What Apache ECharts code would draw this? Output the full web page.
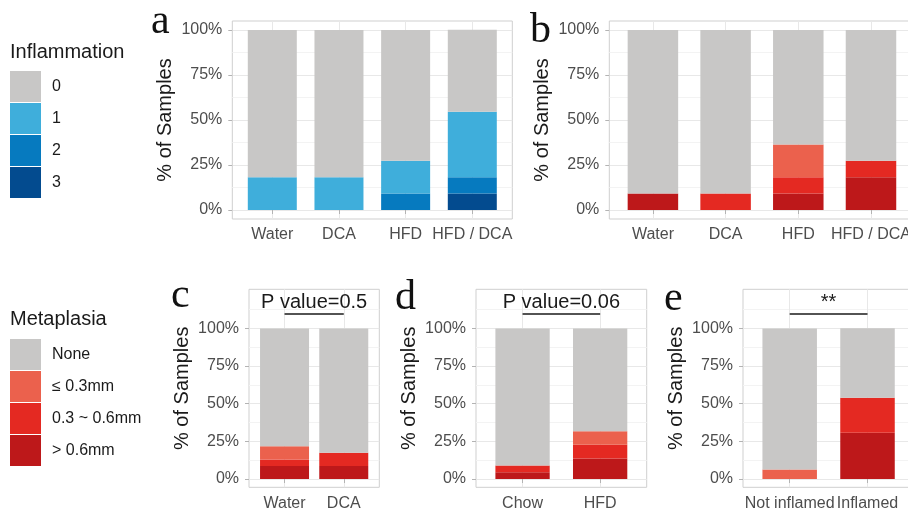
<!DOCTYPE html>
<html><head><meta charset="utf-8">
<script src="https://cdn.jsdelivr.net/npm/echarts@6/dist/echarts.min.js"></script>
<style>html,body{margin:0;padding:0;background:#fff}#c{width:908px;height:510px}</style>
</head><body><div id="c"></div>
<script>
// ---------------- DATA ----------------
const catsAB = ['Water', 'DCA', 'HFD', 'HFD / DCA'];
const catsC = ['Water', 'DCA'];
const catsD = ['Chow', 'HFD'];
const catsE = ['Not inflamed', 'Inflamed'];
const inflLevels = ['0', '1', '2', '3'];
const metaLevels = ['None', '≤ 0.3mm', '0.3 ~ 0.6mm', '> 0.6mm'];
const yTickStep = 25;

// panel a: inflammation grade (% of samples)
const aInfl0 = [81.8, 81.8, 72.7, 45.5];
const aInfl1 = [18.2, 18.2, 18.2, 36.4];
const aInfl2 = [0, 0, 9.1, 9.1];
const aInfl3 = [0, 0, 0, 9.1];
// panel b: metaplasia
const bNone = [90.9, 90.9, 63.6, 72.7];
const bLe03 = [0, 0, 18.2, 0];
const b0306 = [0, 9.1, 9.1, 9.1];
const bGt06 = [9.1, 0, 9.1, 18.2];
// panel c
const cNone = [78.3, 82.6];
const cLe03 = [8.7, 0];
const c0306 = [4.3, 8.7];
const cGt06 = [8.7, 8.7];
// panel d
const dNone = [90.9, 68.2];
const dLe03 = [0, 9.1];
const d0306 = [4.5, 9.1];
const dGt06 = [4.5, 13.6];
// panel e
const eNone = [93.7, 46.2];
const eLe03 = [6.3, 0];
const e0306 = [0, 23.1];
const eGt06 = [0, 30.8];
// significance annotations (c, d, e)
const sigText = ['P value=0.5', 'P value=0.06', '**'];
const sigY = [110, 110, 110];
const panelLetters = ['a', 'b', 'c', 'd', 'e'];

// ---------------- STYLE / LAYOUT ----------------
const SANS = 'Liberation Sans, Arial, Helvetica, sans-serif';
const SERIF = 'Liberation Serif, Times New Roman, serif';
const inflColors = ['#C8C7C6', '#3FAEDB', '#067ABF', '#034B8F'];
const metaColors = ['#C8C7C6', '#EB614D', '#E42922', '#BD181A'];
const BORDER = '#cfcfcf', MAJOR = '#e8e8e8', MINOR = '#f3f3f3', TICK = '#b3b3b3';
const AXTXT = '#4d4d4d', DARK = '#1a1a1a';

const panels = [
  {cats: catsAB, levels: inflLevels, colors: inflColors, values: [aInfl0, aInfl1, aInfl2, aInfl3],
   left: 232.3, right: 512.3, top: 21, bottom: 219, yMin: -5, yMax: 105, barWidth: 49,
   letter: {left: 151, top: 0.5}},
  {cats: catsAB, levels: metaLevels, colors: metaColors, values: [bNone, bLe03, b0306, bGt06],
   left: 609.3, right: 914.6, top: 21, bottom: 219, yMin: -5, yMax: 105, barWidth: 50.5,
   letter: {left: 530, top: 9.8}},
  {cats: catsC, levels: metaLevels, colors: metaColors, values: [cNone, cLe03, c0306, cGt06],
   left: 249, right: 379.3, top: 289.3, bottom: 487.3, yMin: -5.5, yMax: 126, barWidth: 49, sig: 0,
   letter: {left: 171, top: 274.8}},
  {cats: catsD, levels: metaLevels, colors: metaColors, values: [dNone, dLe03, d0306, dGt06],
   left: 476, right: 646.7, top: 289.3, bottom: 487.3, yMin: -5.5, yMax: 126, barWidth: 54.3, sig: 1,
   letter: {left: 395, top: 276.5}},
  {cats: catsE, levels: metaLevels, colors: metaColors, values: [eNone, eLe03, e0306, eGt06],
   left: 743, right: 914.2, top: 289.3, bottom: 487.3, yMin: -5.5, yMax: 126, barWidth: 54.5, sig: 2,
   letter: {left: 664, top: 278}}
];

const option = {
  animation: false,
  backgroundColor: '#ffffff',
  title: [], legend: [], grid: [], xAxis: [], yAxis: [], series: []
};
const gridBase = {containLabel: false, outerBoundsMode: 'none'};

panels.forEach((p, pi) => {
  const n = p.cats.length;
  const W = p.right - p.left, H = p.bottom - p.top;
  const u = W / (n + 0.2);
  const py = v => p.bottom - (v - p.yMin) / (p.yMax - p.yMin) * H;

  // frame grid (border + axis title)
  let gi = option.grid.length;
  option.grid.push(Object.assign({left: p.left, top: p.top, width: W, height: H, show: true,
    borderColor: BORDER, borderWidth: 1, backgroundColor: 'transparent'}, gridBase));
  option.xAxis.push({type: 'value', gridIndex: gi, show: false, min: 0, max: 1});
  option.yAxis.push({type: 'value', gridIndex: gi, min: p.yMin, max: p.yMax,
    name: '% of Samples', nameLocation: 'middle', nameGap: 57, nameRotate: 90,
    nameTextStyle: {fontFamily: SANS, fontSize: 20, color: DARK},
    axisLine: {show: false}, axisTick: {show: false}, axisLabel: {show: false}, splitLine: {show: false}});

  // y gridlines / labels grid (0..100)
  gi = option.grid.length;
  option.grid.push(Object.assign({left: p.left, top: py(100), width: W, height: py(0) - py(100), show: false}, gridBase));
  option.xAxis.push({type: 'value', gridIndex: gi, show: false, min: 0, max: 1});
  option.yAxis.push({type: 'value', gridIndex: gi, min: 0, max: 100, interval: yTickStep,
    axisLine: {show: false},
    axisTick: {show: true, length: 4, lineStyle: {color: TICK, width: 1}},
    axisLabel: {formatter: '{value}%', fontFamily: SANS, fontSize: 16, color: AXTXT, margin: 10},
    splitLine: {show: true, lineStyle: {color: MAJOR, width: 1}},
    minorTick: {show: false, splitNumber: 2},
    minorSplitLine: {show: true, lineStyle: {color: MINOR, width: 1}}});

  // minor gridline above 100% (panels with extended range)
  if (p.yMax > 112.5) {
    gi = option.grid.length;
    option.grid.push(Object.assign({left: p.left, top: py(125), width: W, height: py(100) - py(125), show: false}, gridBase));
    option.xAxis.push({type: 'value', gridIndex: gi, show: false, min: 0, max: 1});
    option.yAxis.push({type: 'value', gridIndex: gi, min: 100, max: 125, interval: 12.5,
      axisLine: {show: false}, axisTick: {show: false}, axisLabel: {show: false},
      splitLine: {show: true, lineStyle: {color: ['rgba(0,0,0,0)', MINOR, 'rgba(0,0,0,0)'], width: 1}}});
  }

  // category grid (bars)
  gi = option.grid.length;
  option.grid.push(Object.assign({left: p.left + 0.6 * u, top: p.top, width: (n - 1) * u, height: H, show: false}, gridBase));
  const xi = option.xAxis.length, yi = option.yAxis.length;
  option.xAxis.push({type: 'category', gridIndex: gi, data: p.cats, boundaryGap: false,
    axisLine: {show: false},
    axisTick: {show: true, length: 4, lineStyle: {color: TICK, width: 1}},
    axisLabel: {interval: 0, hideOverlap: false, fontFamily: SANS, fontSize: 16, color: AXTXT, margin: 8},
    splitLine: {show: true, lineStyle: {color: MAJOR, width: 1}}});
  option.yAxis.push({type: 'value', gridIndex: gi, show: false, min: p.yMin, max: p.yMax});

  for (let k = p.levels.length - 1; k >= 0; k--) {
    const s = {type: 'bar', name: p.levels[k], xAxisIndex: xi, yAxisIndex: yi, stack: 'panel' + pi,
      data: p.values[k], barWidth: p.barWidth, clip: false, itemStyle: {color: p.colors[k]},
      emphasis: {disabled: true}, silent: true};
    if (k === p.levels.length - 1 && p.sig !== undefined) {
      s.markLine = {silent: true, symbol: ['none', 'none'],
        lineStyle: {color: DARK, width: 1.5, type: 'solid'},
        label: {show: true, position: 'insideMiddleTop', distance: 1, formatter: sigText[p.sig],
          fontFamily: SANS, fontSize: 20, color: DARK},
        emphasis: {disabled: true},
        data: [[{coord: [p.cats[0], sigY[p.sig]]}, {coord: [p.cats[n - 1], sigY[p.sig]]}]]};
    }
    option.series.push(s);
  }

  option.title.push({text: panelLetters[pi], left: p.letter.left, top: p.letter.top, padding: 0,
    textStyle: {fontFamily: SERIF, fontSize: 42, fontWeight: 'normal', color: '#111'}});
});

// legend titles
option.title.push({text: 'Inflammation', left: 10, top: 42, padding: 0,
  textStyle: {fontFamily: SANS, fontSize: 20, fontWeight: 'normal', color: DARK}});
option.title.push({text: 'Metaplasia', left: 10, top: 309, padding: 0,
  textStyle: {fontFamily: SANS, fontSize: 20, fontWeight: 'normal', color: DARK}});

const legendBase = {orient: 'vertical', left: 10, itemWidth: 31, itemHeight: 31, itemGap: 1,
  icon: 'rect', selectedMode: false, padding: 0,
  textStyle: {fontFamily: SANS, fontSize: 16, color: DARK, padding: [0, 0, 0, 6]}};
option.legend.push(Object.assign({data: inflLevels, top: 71}, legendBase));
option.legend.push(Object.assign({data: metaLevels, top: 339}, legendBase));

const chart = echarts.init(document.getElementById('c'), null, {renderer: 'canvas'});
chart.setOption(option);
</script>
</body></html>
